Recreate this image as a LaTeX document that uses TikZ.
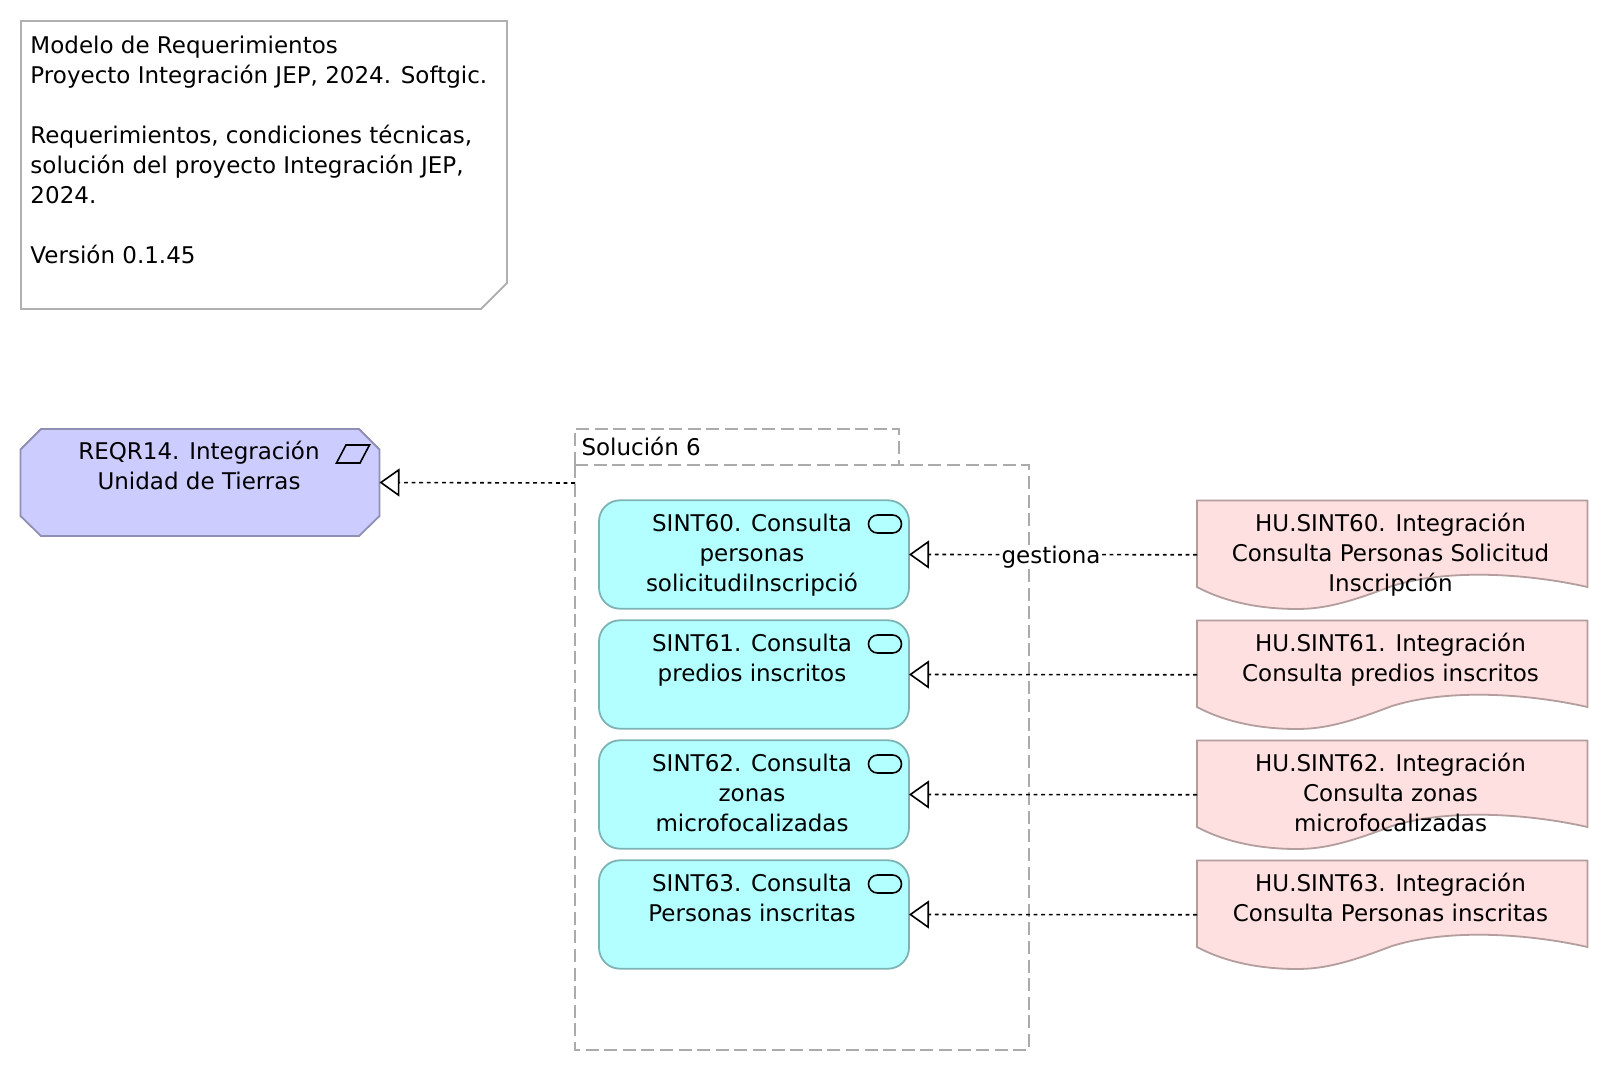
\documentclass[tikz,border=0pt]{standalone}
\usepackage{fontspec}
\setmainfont{DejaVu Sans}
\usetikzlibrary{arrows.meta}
\definecolor{reqfill}{HTML}{CCCCFF}
\definecolor{reqline}{HTML}{8F8FB3}
\definecolor{sintfill}{HTML}{B3FFFF}
\definecolor{sintline}{HTML}{7DB3B3}
\definecolor{hufill}{HTML}{FFE0E0}
\definecolor{huline}{HTML}{B39D9D}
\definecolor{noteline}{HTML}{B0B0B0}
\definecolor{grpline}{HTML}{ABABAB}
\newcommand{\fl}{\rule{0pt}{10pt}}
\tikzset{
  x=0.5pt,y=-0.5pt,
  every node/.style={font=\fontsize{11.5}{15}\selectfont,inner sep=0pt,outer sep=0pt},
  labeltxt/.style={anchor=north,align=center,text=black},
  notetxt/.style={anchor=north west,align=left,text=black},
  sintbox/.style={draw=sintline,fill=sintfill,line width=0.9pt,rounded corners=10.5pt,rectangle,minimum width=155pt,minimum height=54.2pt},
  hubox/.style={rectangle,minimum width=195.25pt,minimum height=54.5pt},
  hushape/.style={draw=huline,fill=hufill,line width=0.9pt},
  reqbox/.style={rectangle,minimum width=179.5pt,minimum height=53.5pt},
  reqshape/.style={draw=reqline,fill=reqfill,line width=0.9pt},
  grpshape/.style={draw=grpline,line width=0.9pt,dash pattern=on 6.5pt off 2.8pt},
  noteshape/.style={draw=noteline,fill=white,line width=0.9pt},
  svcicon/.style={draw=black,line width=0.8pt,rectangle,rounded corners=4.5pt,minimum width=16.5pt,minimum height=9pt},
  icon/.style={draw=black,line width=0.8pt},
  realiza/.style={draw=black,line width=0.8pt,dash pattern=on 1.9pt off 1.9pt,-{Triangle[open,fill=white,length=10pt,width=14pt,line width=0.8pt]}},
}
\newcommand{\fila}[4]{%
  % #1 id, #2 row offset, #3 sint text, #4 hu text
  \node[sintbox] (s#1) at (754,#2+554.5) {};
  \node[svcicon] (i#1) at (885,#2+524) {};
  \node[hubox] (h#1) at (1392.25,#2+554.75) {};
  \draw[hushape] (1197,#2+500.5) -- (1587.5,#2+500.5) -- (1587.5,#2+587)
     .. controls (1530,#2+574) and (1450,#2+568) .. (1392,#2+586)
     .. controls (1350,#2+602) and (1325,#2+609) .. (1297,#2+609)
     .. controls (1260,#2+609) and (1225,#2+602) .. (1197,#2+587) -- cycle;
  \node[labeltxt] (ts#1) at (752,#2+511) {\fl #3};
  \node[labeltxt] (th#1) at (1390.5,#2+511) {\fl #4};
  \draw[realiza] (h#1.west) -- (s#1.east);
}
\begin{document}
\begin{tikzpicture}
\useasboundingbox (0,0) rectangle (1608,1072);
% note
\draw[noteshape] (21,21) -- (507,21) -- (507,283) -- (481,309) -- (21,309) -- cycle;
\node[notetxt] (nota) at (30.5,33) {\fl Modelo de Requerimientos\\Proyecto Integración JEP, 2024. Softgic.\\[15pt]Requerimientos, condiciones técnicas,\\solución del proyecto Integración JEP,\\2024.\\[15pt]Versión 0.1.45};
% requirement
\node[reqbox] (reqr) at (200,482.5) {};
\draw[reqshape] (41,429) -- (359,429) -- (379.5,449.5) -- (379.5,516) -- (359,536) -- (41,536) -- (20.5,516) -- (20.5,449.5) -- cycle;
\node[labeltxt] (treqr) at (199,439) {\fl REQR14. Integración\\Unidad de Tierras};
\draw[icon] (336.5,463) -- (346,445) -- (369.5,445) -- (360,463) -- cycle;
% group
\draw[grpshape] (575,465) -- (575,429) -- (899,429) -- (899,465);
\draw[grpshape] (575,465) -- (1029,465) -- (1029,1050) -- (575,1050) -- cycle;
\node[anchor=north west,text=black] (tgrp) at (581.5,435) {\fl Solución 6};
\coordinate (grpw) at (575,483);
\draw[realiza] (grpw) -- (reqr.east);
% rows
\fila{60}{0}{SINT60. Consulta\\personas\\solicitudiInscripció}{HU.SINT60. Integración\\Consulta Personas Solicitud\\Inscripción}
\fila{61}{120}{SINT61. Consulta\\predios inscritos}{HU.SINT61. Integración\\Consulta predios inscritos}
\fila{62}{240}{SINT62. Consulta\\zonas\\microfocalizadas}{HU.SINT62. Integración\\Consulta zonas\\microfocalizadas}
\fila{63}{360}{SINT63. Consulta\\Personas inscritas}{HU.SINT63. Integración\\Consulta Personas inscritas}
\node[fill=white,text=black,inner xsep=1pt,inner ysep=0pt] (gest) at (1051,557) {gestiona};
\end{tikzpicture}
\end{document}
